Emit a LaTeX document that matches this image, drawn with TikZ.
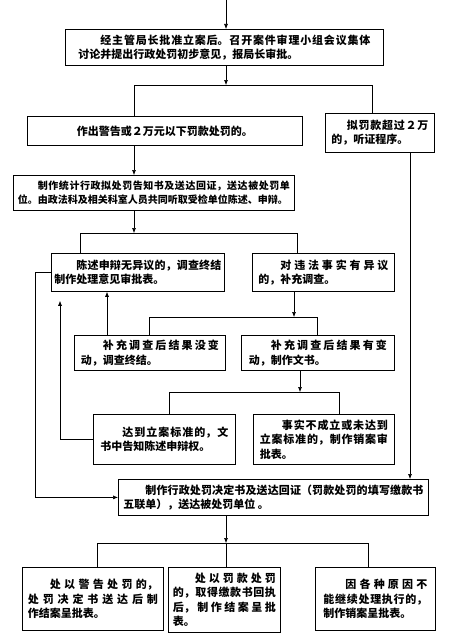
\documentclass[tikz,border=0pt]{standalone}
\usepackage{fontspec}
\newfontfamily\cjk{Noto Sans CJK SC}
\usepackage{tikz}
\usetikzlibrary{arrows.meta}
\XeTeXlinebreaklocale "zh"
\XeTeXlinebreakskip=0pt plus 5pt
\setlength{\parindent}{0pt}
\tolerance=9999
\hbadness=10000
\tikzset{
  casella/.style={draw,line width=0.8pt,inner sep=0pt,anchor=north west,align=justify,
    font=\cjk\bfseries\fontsize{11}{14.5}\selectfont},
  freccia/.style={line width=0.6pt,-{Latex[length=5pt,width=4pt]}},
  linea/.style={line width=0.6pt}
}
\newcommand{\rientro}{\hspace*{2em}}

\begin{document}
\begin{tikzpicture}[x=1pt,y=-1pt]
\useasboundingbox (0,0) rectangle (448,642);
\node[casella,minimum width=318pt,minimum height=36pt,text width=292pt] (avvio) at (65,29)
  {\rientro 经主管局长批准立案后。召开案件审理小组会议集体\linebreak 讨论并提出行政处罚初步意见，报局长审批。};
\node[casella,minimum width=275pt,minimum height=29pt,align=center] (lieve) at (27,116)
  {作出警告或２万元以下罚款处罚的。};
\node[casella,minimum width=109pt,minimum height=39pt,text width=97pt] (udienza) at (325,113)
  {\hspace*{1.4em}拟罚款超过２万\linebreak 的，听证程序。};
\node[casella,minimum width=281pt,minimum height=35pt,text width=272pt,
  font=\cjk\bfseries\fontsize{10}{14.5}\selectfont] (avviso) at (13,175)
  {\rientro 制作统计行政拟处罚告知书及送达回证，送达被处罚单\linebreak 位。由政法科及相关科室人员共同听取受检单位陈述、申辩。};
\node[casella,minimum width=173pt,minimum height=38pt,text width=167pt] (nessuna) at (51,253)
  {\rientro 陈述申辩无异议的，调查终结\linebreak 制作处理意见审批表。};
\node[casella,minimum width=142pt,minimum height=38pt,text width=130pt] (obiezione) at (252,253)
  {\rientro 对违法事实有异议\linebreak 的，补充调查。};
\node[casella,minimum width=151pt,minimum height=35pt,text width=138pt] (invariato) at (74,335)
  {\rientro 补充调查后结果没变\linebreak 动，调查终结。};
\node[casella,minimum width=153pt,minimum height=35pt,text width=138pt] (variato) at (241,335)
  {\rientro 补充调查后结果有变\linebreak 动，制作文书。};
\node[casella,minimum width=142pt,minimum height=50pt,text width=128pt] (standard) at (93,414)
  {\rientro 达到立案标准的，文\linebreak 书中告知陈述申辩权。};
\node[casella,minimum width=141pt,minimum height=50pt,text width=128pt] (archivio) at (253,414)
  {\rientro 事实不成立或未达到\linebreak 立案标准的，制作销案审\linebreak 批表。};
\node[casella,minimum width=310pt,minimum height=36pt,text width=300pt] (decisione) at (118,479)
  {\rientro 制作行政处罚决定书及送达回证（罚款处罚的填写缴款书\linebreak 五联单），送达被处罚单位 。};
\node[casella,minimum width=141pt,minimum height=63pt,text width=130pt] (ammonimento) at (22,567)
  {\rientro 处以警告处罚的，\linebreak 处罚决定书送达后制\linebreak 作结案呈批表。};
\node[casella,minimum width=112pt,minimum height=65pt,text width=103pt] (multa) at (168,567)
  {\rientro 处以罚款处罚\linebreak 的，取得缴款书回执\linebreak 后，制作结案呈批\linebreak 表。};
\node[casella,minimum width=120pt,minimum height=63pt,text width=104pt] (chiusura) at (315,567)
  {\rientro 因各种原因不\linebreak 能继续处理执行的，\linebreak 制作销案呈批表。};

\coordinate (inizio) at (226,0);
\coordinate (g1) at (226,85);
\coordinate (g1s) at (134,85);
\coordinate (g1d) at (372,85);
\coordinate (g2) at (134,233);
\coordinate (g2s) at (80,233);
\coordinate (g2d) at (297,233);
\coordinate (g3) at (294,317);
\coordinate (g3s) at (149,317);
\coordinate (g3d) at (317,317);
\coordinate (g4) at (300,392);
\coordinate (g4s) at (169,392);
\coordinate (g4d) at (339,392);
\coordinate (g5) at (226,543);
\coordinate (g5s) at (97,543);
\coordinate (g5d) at (368,543);
\coordinate (su) at (107,0);
\coordinate (sx) at (35,0);
\coordinate (sx2) at (60,0);
\coordinate (dx) at (410,0);

\draw[freccia] (inizio) -- (inizio |- avvio.north);
\draw[freccia] (inizio |- avvio.south) -- (g1);
\draw[linea] (g1s) -- (g1d);
\draw[linea] (g1s) -- (g1s |- lieve.north);
\draw[linea] (g1d) -- (g1d |- udienza.north);
\draw[freccia] (g1s |- lieve.south) -- (g1s |- avviso.north);
\draw[freccia] (g1s |- avviso.south) -- (g2);
\draw[linea] (g2s) -- (g2d);
\draw[linea] (g2s) -- (g2s |- nessuna.north);
\draw[linea] (g2d) -- (g2d |- obiezione.north);
\draw[freccia] (g3 |- obiezione.south) -- (g3);
\draw[linea] (g3s) -- (g3d);
\draw[linea] (g3s) -- (g3s |- invariato.north);
\draw[linea] (g3d) -- (g3d |- variato.north);
\draw[freccia] (su |- invariato.north) -- (su |- nessuna.south);
\draw[freccia] (g4 |- variato.south) -- (g4);
\draw[linea] (g4s) -- (g4d);
\draw[linea] (g4s) -- (g4s |- standard.north);
\draw[linea] (g4d) -- (g4d |- archivio.north);
\draw[freccia] (nessuna.west) -- (sx |- nessuna.west) -- (sx |- decisione.west) -- (decisione.west);
\draw[freccia] (standard.west) -- (sx2 |- standard.west) -- ([yshift=-9pt]sx2 |- nessuna.south);
\draw[freccia] (dx |- udienza.south) -- (dx |- decisione.north);
\draw[freccia] (g5 |- decisione.south) -- (g5);
\draw[linea] (g5s) -- (g5d);
\draw[linea] (g5s) -- (g5s |- ammonimento.north);
\draw[linea] (g5) -- (g5 |- multa.north);
\draw[linea] (g5d) -- (g5d |- chiusura.north);
\end{tikzpicture}
\end{document}
